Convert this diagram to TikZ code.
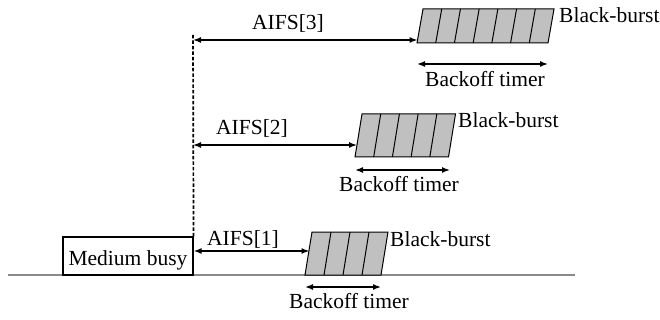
\documentclass[tikz,border=0pt]{standalone}
\usepackage{fontspec}
\setmainfont{Liberation Serif}
\usetikzlibrary{arrows.meta}
\definecolor{burstgray}{HTML}{C0C0C0}
\definecolor{basegray}{HTML}{8A8A8A}
\begin{document}
\begin{tikzpicture}[x=1pt,y=-1pt,
  txt/.style={inner sep=0pt, font=\fontsize{21.5}{25}\selectfont},
  dim/.style={{Latex[length=8pt,width=6pt]}-{Latex[length=8pt,width=6pt]}, line width=1.5pt},
  burst/.style={fill=burstgray, draw=black, line width=1pt},
  cell/.style={draw=black, line width=1pt},
  busybox/.style={draw=black, line width=1.1pt, minimum width=130pt, minimum height=38pt,
    inner sep=0pt, text height=18pt, text depth=0pt, font=\fontsize{21.5}{25}\selectfont},
  vline/.style={line width=1.7pt, dash pattern=on 3.5pt off 2pt},
  ground/.style={draw=basegray, line width=1.5pt}]
\useasboundingbox (0,0) rectangle (660,320);

% ground line
\coordinate (g0) at (8,275);
\coordinate (g1) at (575,275);
\draw[ground] (g0) -- (g1);

% medium busy box
\node[busybox] (busy) at (128,256) {Medium busy};

% dashed vertical line
\coordinate (vtop) at (193,35);
\draw[vline] (busy.north east) -- (vtop);

% ---------- level 3 ----------
\coordinate (p3bl) at (417,43);
\coordinate (p3tl) at (423,9);
\coordinate (p3tr) at (554,9);
\coordinate (p3br) at (548,43);
\draw[burst] (p3bl) -- (p3tl) -- (p3tr) -- (p3br) -- cycle;
\foreach \i in {1,...,6} \draw[cell] ({417+\i*18.714},43) -- ({423+\i*18.714},9);
\coordinate (a3s) at (193,40);
\coordinate (a3e) at (417.5,40);
\draw[dim] (a3s) -- (a3e);
\node[txt, anchor=base] (aifs3) at (288,30) {AIFS[3]};
\node[txt, anchor=base west] (bb3) at (559,23) {Black-burst};
\coordinate (t3s) at (417,64);
\coordinate (t3e) at (548,64);
\draw[dim] (t3s) -- (t3e);
\node[txt, anchor=base] (bt3) at (485,87) {Backoff timer};

% ---------- level 2 ----------
\coordinate (p2bl) at (355,157);
\coordinate (p2tl) at (362,114);
\coordinate (p2tr) at (455.5,114);
\coordinate (p2br) at (448.5,157);
\draw[burst] (p2bl) -- (p2tl) -- (p2tr) -- (p2br) -- cycle;
\foreach \i in {1,...,4} \draw[cell] ({355+\i*18.7},157) -- ({362+\i*18.7},114);
\coordinate (a2s) at (193,145);
\coordinate (a2e) at (357,145);
\draw[dim] (a2s) -- (a2e);
\node[txt, anchor=base] (aifs2) at (252,135) {AIFS[2]};
\node[txt, anchor=base west] (bb2) at (458,128) {Black-burst};
\coordinate (t2s) at (355,170);
\coordinate (t2e) at (450,170);
\draw[dim] (t2s) -- (t2e);
\node[txt, anchor=base] (bt2) at (399,192) {Backoff timer};

% ---------- level 1 ----------
\coordinate (p1bl) at (305,275);
\coordinate (p1tl) at (312,232);
\coordinate (p1tr) at (388,232);
\coordinate (p1br) at (381,275);
\draw[burst] (p1bl) -- (p1tl) -- (p1tr) -- (p1br) -- cycle;
\foreach \i in {1,...,3} \draw[cell] ({305+\i*19},275) -- ({312+\i*19},232);
\coordinate (a1e) at (309.5,251);
\draw[dim] (busy.east |- a1e) -- (a1e);
\node[txt, anchor=base] (aifs1) at (243,245) {AIFS[1]};
\node[txt, anchor=base west] (bb1) at (390,246) {Black-burst};
\coordinate (t1s) at (305,287);
\coordinate (t1e) at (381,287);
\draw[dim] (t1s) -- (t1e);
\node[txt, anchor=base] (bt1) at (349,308) {Backoff timer};
\end{tikzpicture}
\end{document}
